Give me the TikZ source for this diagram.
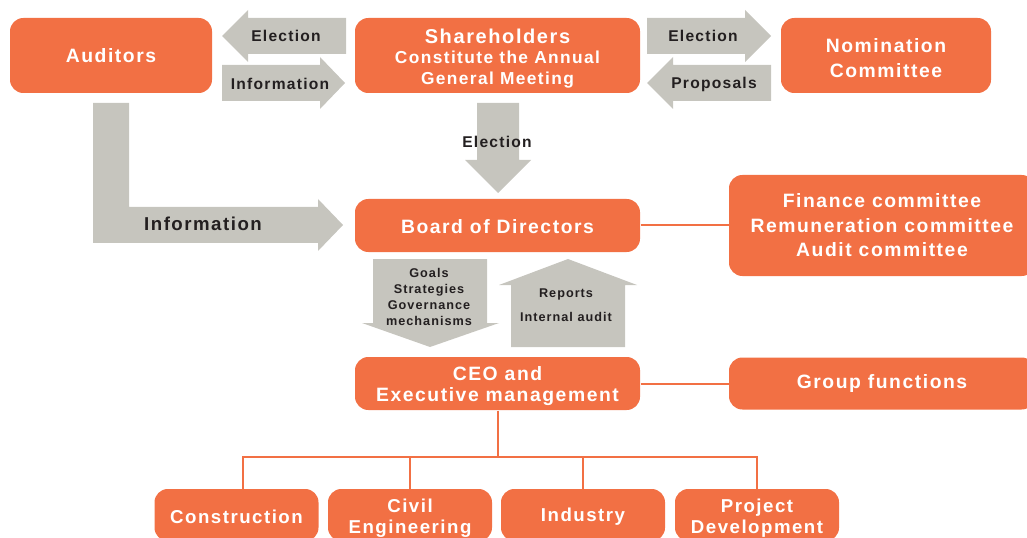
\documentclass[tikz,border=0pt]{standalone}
\usepackage{fontspec}
\setmainfont{Liberation Sans}[LetterSpace=8]
\definecolor{govorange}{RGB}{242,112,68}
\definecolor{govgray}{RGB}{198,197,190}
\definecolor{govtext}{RGB}{35,31,32}
\tikzset{
orgbox/.style={fill=govorange, rounded corners=10pt, inner sep=0pt, align=center, text=white, font=\bfseries\fontsize{14.5}{18.4}\selectfont},
box size/.style 2 args={minimum width=#1*0.75pt, minimum height=#2*0.75pt},
boxlabel/.style={text=white, inner sep=0pt, align=center},
flowarrow/.style={fill=govgray, draw=none},
flowlabel/.style={text=govtext, inner sep=0pt, align=center, font=\bfseries\fontsize{11.7}{14}\selectfont},
orgline/.style={draw=govorange, line width=1.5pt}}
\tikzset{every picture/.style={line width=0.75pt}}
\begin{document}
\begin{tikzpicture}[x=0.75pt,y=0.75pt,yscale=-1,xscale=1]
\useasboundingbox (0,0) rectangle (1027,538);
\clip (0,0) rectangle (1027,538);

%Shape: Left Arrow [id:election_left]
\fill[flowarrow] (222,36) -- (248,10) -- (248,18) -- (346,18) -- (346,54) -- (248,54) -- (248,62) -- cycle ;
%Shape: Right Arrow [id:information_right]
\fill[flowarrow] (222,65) -- (320,65) -- (320,57) -- (345,83) -- (320,109) -- (320,101) -- (222,101) -- cycle ;
%Shape: Right Arrow [id:election_right]
\fill[flowarrow] (647,18) -- (745,18) -- (745,10) -- (771,36) -- (745,62) -- (745,54) -- (647,54) -- cycle ;
%Shape: Left Arrow [id:proposals_left]
\fill[flowarrow] (647,83) -- (673,57) -- (673,65) -- (771,65) -- (771,101) -- (673,101) -- (673,109) -- cycle ;
%Shape: Down Arrow [id:election_down]
\fill[flowarrow] (477,103) -- (519,103) -- (519,160) -- (531,160) -- (498,193) -- (465,160) -- (477,160) -- cycle ;
%Shape: Bent Arrow [id:information_bent]
\fill[flowarrow] (93,103) -- (129,103) -- (129,207) -- (318,207) -- (318,199) -- (343,225) -- (318,251) -- (318,243) -- (93,243) -- cycle ;
%Shape: Down Arrow [id:goals_down]
\fill[flowarrow] (373,259) -- (487,259) -- (487,323) -- (499,323) -- (430,347) -- (362,323) -- (373,323) -- cycle ;
%Shape: Up Arrow [id:reports_up]
\fill[flowarrow] (511,347) -- (511,285) -- (499,285) -- (568,259) -- (637,285) -- (625,285) -- (625,347) -- cycle ;

% Text Node
\node[flowlabel] (electionleft) at (286,36) {Election};
% Text Node
\node[flowlabel] (informationright) at (280,84) {Information};
% Text Node
\node[flowlabel] (electionright) at (703,36) {Election};
% Text Node
\node[flowlabel] (proposals) at (714,84) {Proposals};
% Text Node
\node[flowlabel] (electiondown) at (497,142) {Election};
% Text Node
\node[flowlabel, font=\bfseries\fontsize{14}{16}\selectfont] (informationbent) at (203,224) {Information};
% Text Node
\node[flowlabel, font=\bfseries\fontsize{9.5}{12}\selectfont] (goals) at (429,296.5) {Goals\\Strategies\\Governance\\mechanisms};
% Text Node
\node[flowlabel, font=\bfseries\fontsize{9.5}{18}\selectfont] (reports) at (566,305.5) {Reports\\Internal audit};

%Boxes
\node[orgbox, box size={202}{75}] (auditors) at (111,55.5) {Auditors};
\node[orgbox, box size={285}{75}, label={[boxlabel, yshift=-2pt, font=\bfseries\fontsize{13}{15.4}\selectfont]center:{{\fontsize{15}{15.4}\selectfont Shareholders}\\Constitute the Annual\\General Meeting}}] (shareholders) at (497.5,55.5) {};
\node[orgbox, box size={210}{75}, label={[boxlabel, yshift=-2.25pt, font=\bfseries\fontsize{14.5}{18.75}\selectfont]center:{Nomination\\Committee}}] (nomination) at (886,55.5) {};
\node[orgbox, box size={285}{53}, label={[boxlabel, yshift=-0.75pt, font=\bfseries\fontsize{14.5}{18.4}\selectfont]center:{Board of Directors}}] (board) at (497.5,225.5) {};
\node[orgbox, box size={306}{101}] (committees) at (882,225.5) {Finance committee\\Remuneration committee\\Audit committee};
\node[orgbox, box size={285}{53}, label={[boxlabel, yshift=-1.9pt, font=\bfseries\fontsize{14.5}{15.75}\selectfont]center:{CEO and\\Executive management}}] (ceo) at (497.5,383.5) {};
\node[orgbox, box size={306}{52}] (groupfunctions) at (882,383.5) {Group functions};
\node[orgbox, box size={164}{52}, label={[boxlabel, yshift=-1pt, font=\bfseries\fontsize{14}{15.75}\selectfont]center:{Construction}}] (construction) at (236.5,515) {};
\node[orgbox, box size={164}{52}, label={[boxlabel, yshift=-2.25pt, font=\bfseries\fontsize{14}{15.75}\selectfont]center:{Civil\\Engineering}}] (civil) at (410,515) {};
\node[orgbox, box size={164}{52}, label={[boxlabel, yshift=-1.5pt, font=\bfseries\fontsize{14}{15.75}\selectfont]center:{Industry}}] (industry) at (583,515) {};
\node[orgbox, box size={164}{52}, label={[boxlabel, yshift=-2.25pt, font=\bfseries\fontsize{14}{15.75}\selectfont]center:{Project\\Development}}] (project) at (757,515) {};

%Lines
\coordinate (bus) at (497.5,457);
\draw[orgline] (board.east) -- (committees.west);
\draw[orgline] (ceo.east) -- (groupfunctions.west);
\draw[orgline] (ceo.south) -- (bus);
\draw[orgline] ([xshift=4.5pt]construction.north) |- (bus);
\draw[orgline] (civil.north) |- (bus);
\draw[orgline] (industry.north) |- (bus);
\draw[orgline] (project.north) |- (bus);

\end{tikzpicture}
\end{document}
